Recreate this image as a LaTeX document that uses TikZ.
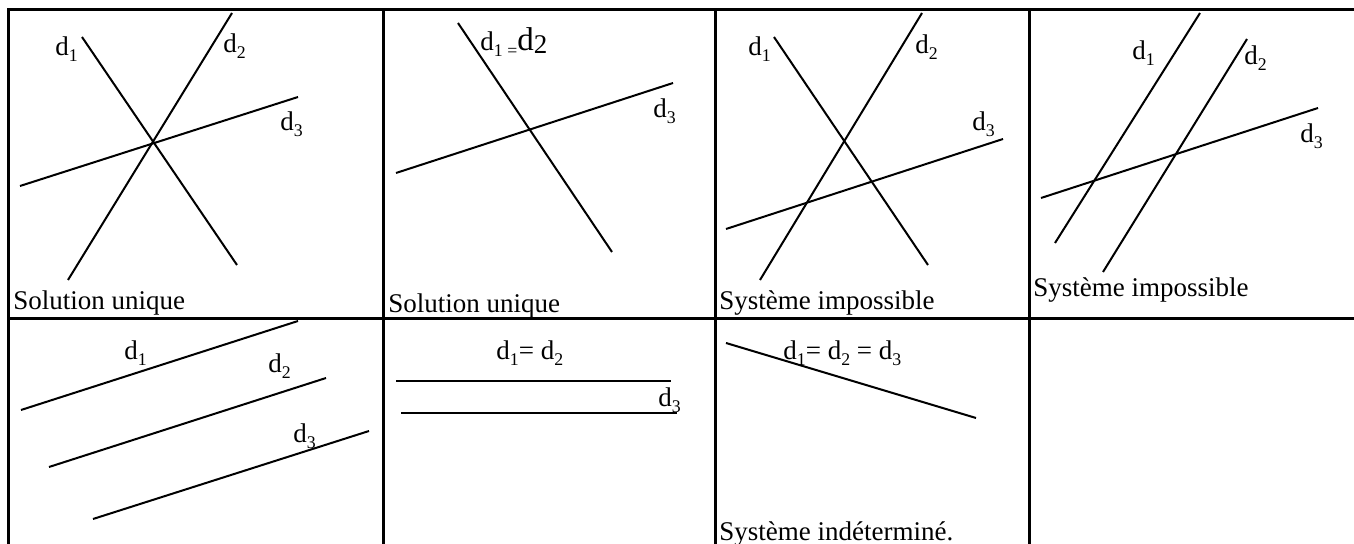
\documentclass[tikz,border=0pt]{standalone}
\usepackage{fontspec}
\setmainfont{Liberation Serif}
\newcommand{\mysub}[1]{\raisebox{-0.2em}{\fontsize{8.9}{9}\selectfont #1}}
\begin{document}
\begin{tikzpicture}[x=0.5pt,y=-0.5pt,
  ln/.style={line width=1pt},
  gridline/.style={line width=1.5pt},
  lbl/.style={anchor=base west, inner sep=0pt, font=\fontsize{13.5}{16}\selectfont}]
\useasboundingbox (0,0) rectangle (1354,544);
\clip (0,0) rectangle (1354,544);
% table
\draw[gridline] (8,560) -- (8,10) -- (1370,10);
\draw[gridline] (8,319) -- (1370,319);
\draw[gridline] (383,10) -- (383,560);
\draw[gridline] (715,10) -- (715,560);
\draw[gridline] (1029,10) -- (1029,560);
% panel 1
\draw[ln] (82,37) -- (237,265);
\draw[ln] (232,13) -- (68,280);
\draw[ln] (20,186) -- (298,97);
\node[lbl] (p1a) at (55,56) {d\mysub{1}};
\node[lbl] (p1b) at (223,53) {d\mysub{2}};
\node[lbl] (p1c) at (280,131) {d\mysub{3}};
\node[lbl] (p1t) at (13,310) {Solution unique};
% panel 2
\draw[ln] (458,23) -- (612,252);
\draw[ln] (396,173) -- (673,83);
\node[lbl] (p2a) at (480,51) {d\mysub{1}\,\mysub{=}{\fontsize{16.5}{18}\selectfont d\raisebox{-0.08em}{\fontsize{13.5}{16}\selectfont 2}}};
\node[lbl] (p2c) at (653,118) {d\mysub{3}};
\node[lbl] (p2t) at (388,313) {Solution unique};
% panel 3
\draw[ln] (774,37) -- (928,265);
\draw[ln] (922,13) -- (760,280);
\draw[ln] (726,229) -- (1003,139);
\node[lbl] (p3a) at (748,56) {d\mysub{1}};
\node[lbl] (p3b) at (915,54) {d\mysub{2}};
\node[lbl] (p3c) at (972,131) {d\mysub{3}};
\node[lbl] (p3t) at (719,310) {Système impossible};
% panel 4
\draw[ln] (1200,13) -- (1055,243);
\draw[ln] (1247,39) -- (1103,272);
\draw[ln] (1041,198) -- (1318,108);
\node[lbl] (p4a) at (1132,60) {d\mysub{1}};
\node[lbl] (p4b) at (1244,65) {d\mysub{2}};
\node[lbl] (p4c) at (1300,143) {d\mysub{3}};
\node[lbl] (p4t) at (1033,297) {Système impossible};
% panel 5
\draw[ln] (21,410) -- (298,321);
\draw[ln] (49,467) -- (326,378);
\draw[ln] (93,519) -- (369,431);
\node[lbl] (p5a) at (124,360) {d\mysub{1}};
\node[lbl] (p5b) at (268,373) {d\mysub{2}};
\node[lbl] (p5c) at (293,443) {d\mysub{3}};
% panel 6
\draw[ln] (396,381) -- (671,381);
\draw[ln] (401,413) -- (677,413);
\node[lbl] (p6a) at (496,360) {d\mysub{1}= d\mysub{2}};
\node[lbl] (p6c) at (658,407) {d\mysub{3}};
% panel 7
\draw[ln] (726,343) -- (976,418);
\node[lbl] (p7a) at (783,360) {d\mysub{1}= d\mysub{2} = d\mysub{3}};
\node[lbl] (p7t) at (719,541) {Système indéterminé.};
\end{tikzpicture}
\end{document}
